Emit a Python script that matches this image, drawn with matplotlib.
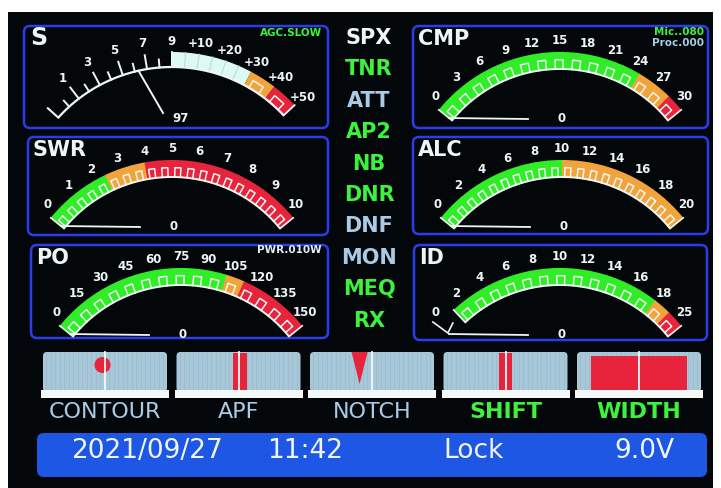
import numpy as np
import matplotlib.pyplot as plt
from matplotlib.patches import Polygon, FancyBboxPatch, Rectangle, Ellipse

# ---------------- data ----------------
s_labels = ["1", "3", "5", "7", "9", "+10", "+20", "+30", "+40", "+50"]
s_label_units = [1, 3, 5, 7, 9, 11, 13, 15, 17, 19]   # S units, 10 dB over S9 = 2 units
s_tick_units = [0, 1, 2, 3, 4, 5, 6, 7, 8, 9]
s_band_units = [9, 15, 17, 19]                         # pale / orange / red limits
s_needle_unit = 6.3
s_reading = "97"

cmp_labels = ["0", "3", "6", "9", "12", "15", "18", "21", "24", "27", "30"]
swr_labels = ["0", "1", "2", "3", "4", "5", "6", "7", "8", "9", "10"]
alc_labels = ["0", "2", "4", "6", "8", "10", "12", "14", "16", "18", "20"]
po_labels = ["0", "15", "30", "45", "60", "75", "90", "105", "120", "135", "150"]
id_labels = ["0", "2", "4", "6", "8", "10", "12", "14", "16", "18", "25"]

# number of bar segments: green, orange, red
cmp_segments = [12, 2, 1]
swr_segments = [5, 3, 12]
alc_segments = [10, 10, 0]
po_segments = [10, 1, 4]
id_segments = [12, 1, 1]
meter_reading = "0"

modes = ["SPX", "TNR", "ATT", "AP2", "NB", "DNR", "DNF", "MON", "MEQ", "RX"]
mode_state = ["sel", "on", "off", "on", "on", "on", "off", "off", "on", "on"]

filters = ["CONTOUR", "APF", "NOTCH", "SHIFT", "WIDTH"]
filter_on = [False, False, False, True, True]
filter_kind = ["dot", "bar", "notch", "bar", "bar"]
filter_offset = [-0.02, 0.01, -0.10, 0.0, 0.0]   # fraction of box width from centre
filter_width = [0.13, 0.11, 0.13, 0.10, 0.78]

status = ["2021/09/27", "11:42", "Lock", "9.0V"]

# ---------------- style ----------------
BG = "#04070a"
WHITE = "#eef5f5"
GREEN = "#3cf23c"
BAR_GREEN = "#2fee25"
LBLUE = "#a9cbe6"
ORANGE = "#f2a43a"
RED = "#e8233c"
PALE = "#dcfaf3"
FRAME = "#2a3cec"
FBOX = "#a8c8d9"
STATUS = "#1d57e4"
FONT = "DejaVu Sans"

fig = plt.figure(figsize=(7.21, 4.88), dpi=100)
fig.patch.set_facecolor("white")
ax = fig.add_axes([0, 0, 1, 1])
ax.set_xlim(0, 721)
ax.set_ylim(488, 0)
ax.axis("off")
ax.add_patch(Rectangle((8, 12), 705, 480, fc=BG, ec="none"))


def pt(cx, cy, r, a):
    t = np.radians(a)
    return cx + r * np.sin(t), cy - r * np.cos(t)


def band(cx, cy, r0, r1, a0, a1, color, z=2):
    a = np.linspace(a0, a1, 30)
    xo, yo = pt(cx, cy, r1, a)
    xi, yi = pt(cx, cy, r0, a[::-1])
    ax.add_patch(Polygon(np.column_stack([np.r_[xo, xi], np.r_[yo, yi]]),
                         closed=True, fc=color, ec="none", zorder=z))


def arc(cx, cy, r, a0, a1, color, lw, z=3):
    x, y = pt(cx, cy, r, np.linspace(a0, a1, 80))
    ax.plot(x, y, color=color, lw=lw, zorder=z, solid_capstyle="butt")


def radial(cx, cy, r0, r1, a, color, lw, z=3):
    x0, y0 = pt(cx, cy, r0, a)
    x1, y1 = pt(cx, cy, r1, a)
    ax.plot([x0, x1], [y0, y1], color=color, lw=lw, zorder=z)


def notch_mark(cx, cy, r0, r1, a0, a1):
    # white "n" mark inside a segment
    w = a1 - a0
    al, ar = a0 + 0.22 * w, a0 + 0.68 * w
    rm = r0 + 0.55 * (r1 - r0)
    xs, ys = pt(cx, cy, rm, np.linspace(al, ar, 8))
    xa, ya = pt(cx, cy, r0, al)
    xb, yb = pt(cx, cy, r0, ar)
    ax.plot(np.r_[xa, xs, xb], np.r_[ya, ys, yb], color=WHITE, lw=1.1, zorder=4)


def panel(x0, y0, x1, y1):
    ax.add_patch(FancyBboxPatch((x0, y0), x1 - x0, y1 - y0,
                                boxstyle="round,pad=0,rounding_size=6",
                                fc="none", ec=FRAME, lw=1.8, zorder=1))


def meter(box, title, labels, segs, cx, cy, band_from=-51, pivot_dx=-32, v_mark=False):
    x0, y0, x1, y1 = box
    panel(x0, y0, x1, y1)
    ax.text(x0 + 5, y0 + 13, title, color=WHITE, fontsize=15, fontweight="bold",
            family=FONT, ha="left", va="center")
    r1, r0, span = 156, 139, 51
    cols = [BAR_GREEN] * segs[0] + [ORANGE] * segs[1] + [RED] * segs[2]
    edges = np.linspace(band_from, span, len(cols) + 1)
    for i, c in enumerate(cols):
        band(cx, cy, r0, r1, edges[i], edges[i + 1] + (0.3 if i < len(cols) - 1 else 0), c)
        notch_mark(cx, cy, r0, r1, edges[i], edges[i + 1])
    arc(cx, cy, r0, band_from, span, WHITE, 1.4)
    radial(cx, cy, r0, r1, band_from, WHITE, 1.2)
    radial(cx, cy, r0, r1, span, WHITE, 1.2)
    for lab, a in zip(labels, np.linspace(-48, 48, len(labels))):
        x, y = pt(cx, cy, r1 + 11, a)
        ax.text(x, y, lab, color=WHITE, fontsize=8.5, fontweight="bold", family=FONT,
                ha="center", va="center")
    # needle resting at zero
    xa, ya = pt(cx, cy, r0 + 4, -span)
    ax.plot([xa, cx + pivot_dx], [ya, cy - 89], color=WHITE, lw=1.3, zorder=5)
    if v_mark:
        ax.plot([xa - 16, xa - 1, xa + 4], [ya - 12, ya - 1, ya - 11],
                color=WHITE, lw=1.2, zorder=5)
    ax.text(cx + 2, cy - 90, meter_reading, color=WHITE, fontsize=8.5, fontweight="bold",
            family=FONT, ha="center", va="center")


# ---------------- S meter ----------------
def s_meter(box):
    x0, y0, x1, y1 = box
    panel(x0, y0, x1, y1)
    ax.text(x0 + 6, y0 + 12, "S", color=WHITE, fontsize=17, fontweight="bold",
            family=FONT, ha="left", va="center")
    ax.text(x1 - 6, y0 + 7, "AGC.SLOW", color=GREEN, fontsize=7.5, fontweight="bold",
            family=FONT, ha="right", va="center")
    cx, cy, r0, r1 = 172, 220, 153, 168

    def ang(u):
        return -42.2 + 4.6875 * u

    arc(cx, cy, r0, -48, ang(s_band_units[-1]), WHITE, 1.6)
    radial(cx, cy, r0, r0 + 14, -48, WHITE, 1.5)
    for u in s_tick_units:
        radial(cx, cy, r0, r0 + (14 if u % 2 else 8), ang(u), WHITE, 1.4)
    cols = [PALE, ORANGE, RED]
    for i, c in enumerate(cols):
        a0, a1 = ang(s_band_units[i]), ang(s_band_units[i + 1])
        band(cx, cy, r0, r1, a0, a1, c)
        if c != PALE:
            notch_mark(cx, cy, r0, r1, a0, a1)
    for u in range(s_band_units[0] + 1, s_band_units[1]):
        radial(cx, cy, r0 + 1, r1, ang(u), "#b9dcd8", 0.8, z=3)
    radial(cx, cy, r0, r1, ang(s_band_units[0]), WHITE, 1.3)
    radial(cx, cy, r0, r1, ang(s_band_units[-1]), WHITE, 1.3)
    for lab, u in zip(s_labels, s_label_units):
        x, y = pt(cx, cy, 179, ang(u))
        ax.text(x, y, lab, color=WHITE, fontsize=8.5, fontweight="bold", family=FONT,
                ha="center", va="center")
    xa, ya = pt(cx, cy, r0, ang(s_needle_unit))
    ax.plot([xa, cx - 9], [ya, cy - 107], color=WHITE, lw=1.4, zorder=5)
    ax.text(cx, cy - 102, s_reading, color=WHITE, fontsize=8.5, fontweight="bold",
            family=FONT, ha="left", va="center")


s_meter((24, 26, 328, 128))
meter((28, 137, 328, 235), "SWR", swr_labels, swr_segments, 172, 316)
meter((31, 245, 328, 338), "PO", po_labels, po_segments, 181, 424)
meter((413, 26, 708, 128), "CMP", cmp_labels, cmp_segments, 560, 208)
meter((413, 137, 708, 234), "ALC", alc_labels, alc_segments, 562, 316)
meter((414, 245, 707, 340), "ID", id_labels, id_segments, 560, 424,
      band_from=-43, v_mark=True)

ax.text(322, 250, "PWR.010W", color="#e2eef2", fontsize=7.5, fontweight="bold",
        family=FONT, ha="right", va="center")
ax.text(704, 32, "Mic..080", color=GREEN, fontsize=7.5, fontweight="bold",
        family=FONT, ha="right", va="center")
ax.text(704, 43, "Proc.000", color=LBLUE, fontsize=7.5, fontweight="bold",
        family=FONT, ha="right", va="center")

# ---------------- mode column ----------------
state_col = {"sel": WHITE, "on": GREEN, "off": LBLUE}
for i, (m, s) in enumerate(zip(modes, mode_state)):
    ax.text(369, 38 + 31.4 * i, m, color=state_col[s], fontsize=15, fontweight="bold",
            family=FONT, ha="center", va="center")

# ---------------- filter boxes ----------------
for i, name in enumerate(filters):
    bx, bw = 43 + 133.5 * i, 124
    ax.add_patch(FancyBboxPatch((bx, 352), bw, 40, boxstyle="round,pad=0,rounding_size=4",
                                fc=FBOX, ec="none", zorder=2))
    for gx in np.arange(bx + 3, bx + bw - 2, 4.5):
        ax.plot([gx, gx], [353, 390], color="#98bccf", lw=0.6, zorder=2)
    ax.add_patch(Rectangle((bx - 2, 390), bw + 4, 8, fc="#f4f8f8", ec="none", zorder=3))
    xc = bx + bw / 2
    mx = xc + filter_offset[i] * bw
    w = filter_width[i] * bw
    if filter_kind[i] == "dot":
        ax.add_patch(Ellipse((mx, 365), w, 16, fc=RED, ec="none", zorder=3))
    elif filter_kind[i] == "notch":
        ax.add_patch(Polygon([[mx - w / 2, 352], [mx + w / 2, 352], [mx, 384]],
                             closed=True, fc=RED, ec="none", zorder=3))
    else:
        top = 356 if w > 40 else 353
        ax.add_patch(Rectangle((mx - w / 2, top), w, 390 - top, fc=RED, ec="none", zorder=3))
    ax.plot([xc, xc], [352, 390], color="#f6fafa", lw=1.3, zorder=4)
    ax.text(xc, 412, name, color=GREEN if filter_on[i] else LBLUE, fontsize=16,
            fontweight="bold" if filter_on[i] else "normal", family=FONT,
            ha="center", va="center")

# ---------------- status bar ----------------
ax.add_patch(FancyBboxPatch((37, 433), 670, 44, boxstyle="round,pad=0,rounding_size=7",
                            fc=STATUS, ec="none", zorder=2))
for txt, x in zip(status, [147, 305, 474, 644]):
    ax.text(x, 451, txt, color=WHITE, fontsize=19, family=FONT, ha="center",
            va="center", zorder=3)

fig.savefig("out.png", dpi=100)
